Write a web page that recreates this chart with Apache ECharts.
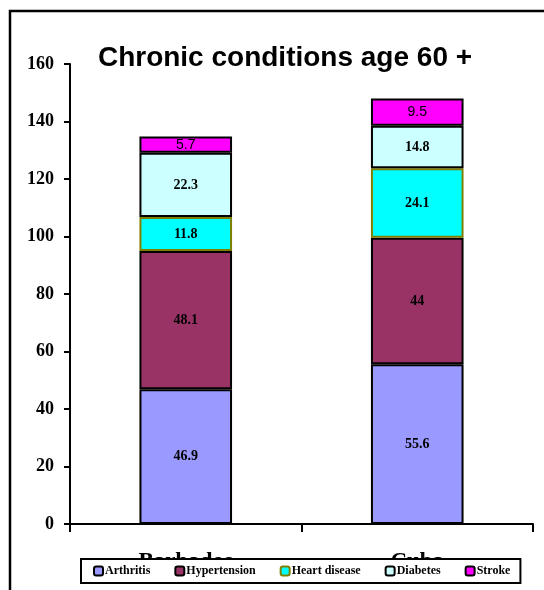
<!DOCTYPE html>
<html>
<head>
<meta charset="utf-8">
<script src="https://cdn.jsdelivr.net/npm/echarts@6/dist/echarts.min.js"></script>
<style>
  html, body { margin: 0; padding: 0; background: #fff; }
  #chart { width: 544px; height: 590px; }
</style>
</head>
<body>
<div id="chart"></div>
<script>
// 数据
var countries = ['Barbados', 'Cuba'];
var arthritis = [46.9, 55.6];
var hypertension = [48.1, 44];
var heartDisease = [11.8, 24.1];
var diabetes = [22.3, 14.8];
var stroke = [5.7, 9.5];
var yTicks = [0, 20, 40, 60, 80, 100, 120, 140, 160];

var myChart = echarts.init(document.getElementById('chart'));

var serif = '"Liberation Serif", "Times New Roman", serif';
var sans = '"Liberation Sans", Arial, sans-serif';

function makeSeries(name, data, color, border, lblFont) {
    return {
        name: name,
        type: 'bar',
        stack: 'total',
        barWidth: '40%',
        data: data,
        itemStyle: { color: color, borderColor: border, borderWidth: 2 },
        label: {
            show: true,
            position: 'inside',
            color: '#000',
            fontFamily: lblFont || serif,
            fontWeight: lblFont ? 'normal' : 'bold',
            fontSize: 14
        }
    };
}

var option = {
    animation: false,
    backgroundColor: '#fff',
    title: {
        text: 'Chronic conditions age 60 +',
        left: 280,
        textAlign: 'center',
        top: 39,
        textStyle: { fontFamily: sans, fontWeight: 'bold', fontSize: 28, color: '#000' }
    },
    graphic: [{
        type: 'polyline',
        shape: { points: [[10, 590], [10, 11], [544, 11]] },
        style: { stroke: '#000', lineWidth: 2.5, fill: null }
    }],
    legend: {
        bottom: 7,
        left: 81,
        width: 436,
        itemWidth: 9,
        itemHeight: 9,
        itemGap: 24,
        padding: [6, 10, 6, 12],
        borderColor: '#000',
        borderWidth: 2,
        backgroundColor: '#fff',
        z: 10,
        textStyle: { fontFamily: serif, fontWeight: 'bold', fontSize: 12, color: '#000', padding: [0, 0, 0, -3] },
        data: ['Arthritis', 'Hypertension', 'Heart disease', 'Diabetes', 'Stroke']
    },
    grid: { left: 70, right: 11, top: 64, bottom: 66, containLabel: false },
    xAxis: {
        type: 'category',
        data: countries,
        axisLine: { lineStyle: { color: '#000', width: 2 } },
        axisTick: { show: true, length: 8, lineStyle: { color: '#000', width: 2 } },
        axisLabel: { fontFamily: serif, fontWeight: 'bold', fontSize: 23, color: '#000', margin: 27 }
    },
    yAxis: {
        type: 'value',
        min: yTicks[0],
        max: yTicks[yTicks.length - 1],
        interval: 20,
        splitLine: { show: false },
        axisLine: { show: true, lineStyle: { color: '#000', width: 2 } },
        axisTick: { show: true, length: 6, lineStyle: { color: '#000', width: 2 } },
        axisLabel: { fontFamily: serif, fontWeight: 'bold', fontSize: 18, color: '#000', margin: 16 }
    },
    series: [
        makeSeries('Arthritis', arthritis, '#9999FF', '#000'),
        makeSeries('Hypertension', hypertension, '#993366', '#000'),
        makeSeries('Heart disease', heartDisease, '#00FFFF', '#808000'),
        makeSeries('Diabetes', diabetes, '#CCFFFF', '#000'),
        makeSeries('Stroke', stroke, '#FF00FF', '#000', sans)
    ]
};

myChart.setOption(option);
</script>
</body>
</html>
